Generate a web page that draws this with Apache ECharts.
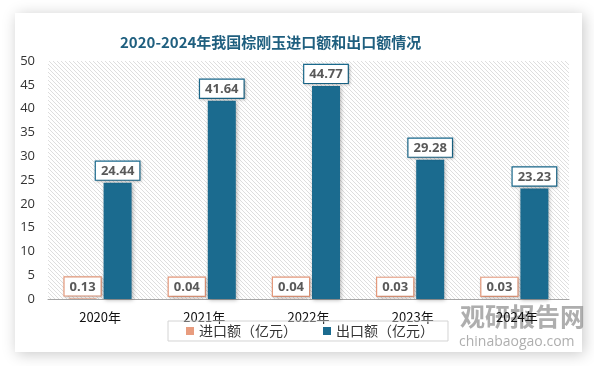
<!DOCTYPE html>
<html>
<head>
<meta charset="utf-8">
<script src="https://cdn.jsdelivr.net/npm/echarts@6/dist/echarts.min.js"></script>
<style>
html,body{margin:0;padding:0;background:#fff;}
#c{width:594px;height:366px;}
</style>
</head>
<body>
<div id="c"></div>
<script>
const titleText = '2020-2024年我国棕刚玉进口额和出口额情况';
const categories = ['2020年', '2021年', '2022年', '2023年', '2024年'];
const importValues = [0.13, 0.04, 0.04, 0.03, 0.03];
const exportValues = [24.44, 41.64, 44.77, 29.28, 23.23];
const seriesNames = ['进口额（亿元）', '出口额（亿元）'];

const importColor = '#E89C7E';
const exportColor = '#1B6B8F';

// hatch pattern
const pc = document.createElement('canvas');
pc.width = 4; pc.height = 4;
const ctx = pc.getContext('2d');
ctx.fillStyle = '#ffffff';
ctx.fillRect(0, 0, 4, 4);
ctx.strokeStyle = '#dadada';
ctx.lineWidth = 0.9;
ctx.beginPath();
ctx.moveTo(-1, -1); ctx.lineTo(5, 5);
ctx.moveTo(-1, 3); ctx.lineTo(1, 5);
ctx.moveTo(3, -1); ctx.lineTo(5, 1);
ctx.stroke();

const chart = echarts.init(document.getElementById('c'), null, {renderer: 'canvas'});
const labelBase = {
  show: true,
  position: 'top',
  distance: 3,
  color: '#595959',
  fontWeight: 'bold',
  fontSize: 13,
  fontFamily: 'Open Sans, Noto Sans, sans-serif',
  backgroundColor: '#fff',
  borderWidth: 1.2,
  padding: [3, 5, 2, 5],
  shadowColor: 'rgba(0,0,0,0.2)',
  shadowBlur: 3,
  shadowOffsetX: 1,
  shadowOffsetY: 1
};
chart.setOption({
  backgroundColor: '#fff',
  animation: false,
  graphic: [
    {type: 'rect', z: -10, shape: {x: 15, y: 13, width: 567, height: 339},
     style: {fill: '#fff', shadowBlur: 14, shadowColor: 'rgba(0,0,0,0.22)', shadowOffsetX: 2, shadowOffsetY: 2}},
    {type: 'text', z: -5, left: 460, top: 304,
     style: {text: '观研报告网', fill: 'rgba(140,140,140,0.7)', font: 'bold 25px "Noto Sans CJK SC", sans-serif'}},
    {type: 'text', z: -5, left: 459, top: 335,
     style: {text: 'chinabaogao.com', fill: 'rgba(140,140,140,0.7)', font: '14px "Open Sans", sans-serif'}}
  ],
  title: {
    text: titleText,
    left: 115,
    top: 30,
    textStyle: {color: '#1F5F7F', fontSize: 15, fontWeight: 'bold', fontFamily: '"Noto Sans CJK SC", sans-serif'}
  },
  legend: {
    data: seriesNames,
    left: 168,
    top: 321,
    padding: [3, 14, 3, 18],
    borderColor: '#d4d4d4',
    borderWidth: 1,
    itemWidth: 8,
    itemHeight: 8,
    itemGap: 26,
    icon: 'rect',
    textStyle: {color: '#333', fontSize: 14, fontFamily: '"Noto Sans CJK SC", sans-serif'}
  },
  grid: {
    left: 48, right: 25, top: 61, bottom: 67,
    show: true, borderWidth: 0,
    backgroundColor: {image: pc, repeat: 'repeat'}
  },
  xAxis: {
    type: 'category',
    data: categories,
    axisTick: {show: false},
    axisLine: {lineStyle: {color: '#a6a6a6', width: 1}},
    axisLabel: {color: '#111', fontSize: 13, margin: 12, fontFamily: '"Noto Sans CJK SC", sans-serif'}
  },
  yAxis: {
    type: 'value',
    min: 0, max: 50, interval: 5,
    axisLine: {show: false},
    axisTick: {show: false},
    splitLine: {show: false},
    axisLabel: {color: '#333', fontSize: 13, margin: 13, fontFamily: 'Open Sans, sans-serif'}
  },
  series: [
    {
      name: seriesNames[0], type: 'bar', data: importValues,
      barWidth: 28, barGap: '25%',
      itemStyle: {color: importColor},
      label: Object.assign({}, labelBase, {borderColor: importColor})
    },
    {
      name: seriesNames[1], type: 'bar', data: exportValues,
      barWidth: 28, barGap: '25%',
      itemStyle: {color: exportColor, shadowColor: 'rgba(0,0,0,0.3)', shadowBlur: 4, shadowOffsetX: 1, shadowOffsetY: 1},
      label: Object.assign({}, labelBase, {borderColor: exportColor})
    }
  ]
});
</script>
</body>
</html>
